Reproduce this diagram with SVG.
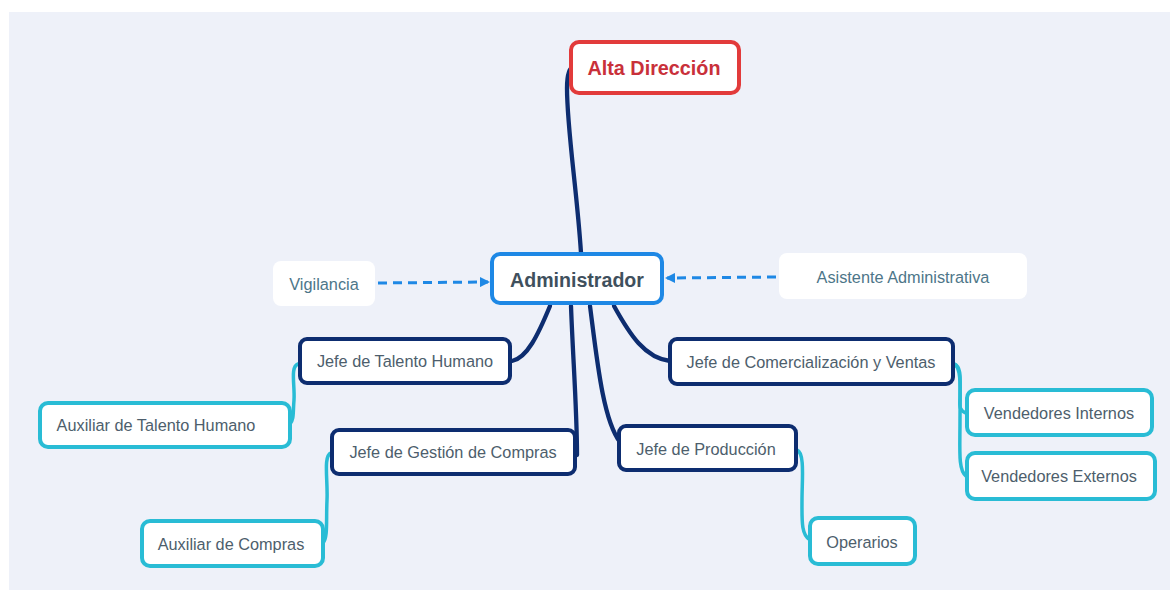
<svg xmlns="http://www.w3.org/2000/svg" width="1170" height="590" viewBox="0 0 1170 590">
<style>
text{font-family:"Liberation Sans",Arial,sans-serif;font-size:16.3px;fill:#4d5e6c;text-anchor:middle;dominant-baseline:central}
.l1{stroke:#0d2d70;stroke-width:4}
.l2{stroke:#29bcd5;stroke-width:4}
.c1{fill:none;stroke:#0d2d70;stroke-width:4.3;stroke-linecap:round}
.c2{fill:none;stroke:#29bcd5;stroke-width:3.5;stroke-linecap:round}
.dash{fill:none;stroke:#1e88e5;stroke-width:3;stroke-dasharray:9 6}
</style>
<defs>
<marker id="arr" markerWidth="10" markerHeight="10" refX="8" refY="5" orient="auto" markerUnits="userSpaceOnUse">
<path d="M0,0 L10,5 L0,10 Z" fill="#1e88e5"/>
</marker>
</defs>
<rect x="9" y="12" width="1161" height="578" fill="#eef1f9"/>
<g id="connectors">
<path class="c1" d="M581,253 C577,190 567,130 567,88 Q567,68 574,66"/>
<path class="c1" d="M550,306 C538,335 527,358 512,361"/>
<path class="c1" d="M571,306 C573,360 577,410 577,455"/>
<path class="c1" d="M590,306 C597,360 603,420 620,442"/>
<path class="c1" d="M614,306 C630,335 645,358 670,361"/>
<path class="c2" d="M298,364 C290,367 295,385 294,400 C293,412 294,420 290,424"/>
<path class="c2" d="M331,453 C323,456 328,480 327,500 C326,520 328,538 323,543"/>
<path class="c2" d="M797,450 C805,453 802,480 802,500 C802,520 801,535 810,540"/>
<path class="c2" d="M954,364 C962,367 960,380 960,395 C960,405 958,410 966,413"/>
<path class="c2" d="M954,364 C962,367 960,390 960,420 C960,450 958,470 966,476"/>
<path class="dash" d="M378,283 L488,282" marker-end="url(#arr)"/>
<path class="dash" d="M776,277 L667,278" marker-end="url(#arr)"/>
</g>
<g id="alta">
<rect x="571" y="42" width="168" height="51" rx="8" fill="#fff" stroke="#e23b3b" stroke-width="4"/>
<text x="654" y="68" style="font-size:19.8px;font-weight:bold;fill:#c9303a">Alta Dirección</text>
</g>
<g id="admin">
<rect x="492" y="254" width="170" height="49" rx="8" fill="#fff" stroke="#1e88e5" stroke-width="4"/>
<text x="577" y="280" style="font-size:19.6px;font-weight:bold;fill:#3f505d">Administrador</text>
</g>
<g id="vigilancia">
<rect x="273" y="261" width="102" height="45" rx="8" fill="#fff"/>
<text x="324" y="284" style="fill:#4d7689">Vigilancia</text>
</g>
<g id="asistente">
<rect x="779" y="253" width="248" height="46" rx="8" fill="#fff"/>
<text x="903" y="277" style="fill:#4d7689">Asistente Administrativa</text>
</g>
<g id="jefe-th">
<rect x="300" y="339" width="210" height="44" rx="7" fill="#fff" class="l1"/>
<text x="405" y="361">Jefe de Talento Humano</text>
</g>
<g id="jefe-cv">
<rect x="670" y="339" width="283" height="45" rx="7" fill="#fff" class="l1"/>
<text x="811" y="362">Jefe de Comercialización y Ventas</text>
</g>
<g id="jefe-gc">
<rect x="332" y="430" width="243" height="44" rx="7" fill="#fff" class="l1"/>
<text x="453" y="452">Jefe de Gestión de Compras</text>
</g>
<g id="jefe-p">
<rect x="619" y="426" width="177" height="44" rx="7" fill="#fff" class="l1"/>
<text x="706" y="449">Jefe de Producción</text>
</g>
<g id="aux-th">
<rect x="40" y="403" width="250" height="44" rx="8" fill="#fff" class="l2"/>
<text x="156" y="425">Auxiliar de Talento Humano</text>
</g>
<g id="aux-c">
<rect x="142" y="521" width="181" height="45" rx="8" fill="#fff" class="l2"/>
<text x="231" y="544">Auxiliar de Compras</text>
</g>
<g id="operarios">
<rect x="810" y="518" width="105" height="46" rx="8" fill="#fff" class="l2"/>
<text x="862" y="542">Operarios</text>
</g>
<g id="vend-int">
<rect x="967" y="390" width="185" height="45" rx="8" fill="#fff" class="l2"/>
<text x="1059" y="413">Vendedores Internos</text>
</g>
<g id="vend-ext">
<rect x="967" y="453" width="188" height="46" rx="8" fill="#fff" class="l2"/>
<text x="1059" y="476">Vendedores Externos</text>
</g>
</svg>
